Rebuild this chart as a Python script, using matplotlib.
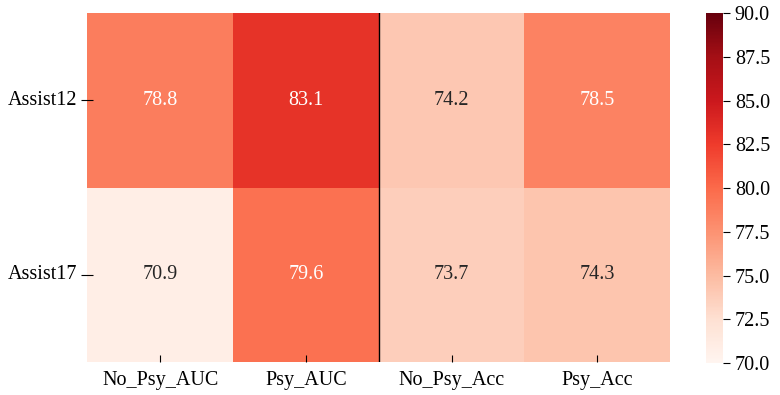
import numpy as np
import pandas as pd
import seaborn as sns
from matplotlib import pyplot as plt

# 数据
datasets = ['Assist12', 'Assist17']
metrics = ['No_Psy_AUC', 'Psy_AUC', 'No_Psy_Acc', 'Psy_Acc']
assist12 = [78.8, 83.1, 74.2, 78.5]
assist17 = [70.9, 79.6, 73.7, 74.3]

df = pd.DataFrame([assist12, assist17], index=datasets, columns=metrics)

plt.rcParams['font.family'] = ['Liberation Serif', 'DejaVu Serif']
plt.rcParams['font.size'] = 14.5

fig = plt.figure(figsize=(7.8, 3.95), dpi=100)
ax = fig.add_axes([0.112, 0.083, 0.747, 0.884])
cax = fig.add_axes([0.905, 0.081, 0.022, 0.886])

sns.heatmap(df, ax=ax, cbar_ax=cax, cmap='Reds', vmin=70, vmax=90,
            annot=True, fmt='.1f', annot_kws={'fontsize': 14.5})
ax.axvline(x=2, color='black', lw=1)

ax.tick_params(axis='x', direction='in', length=5, labelsize=14.5, pad=6)
ax.tick_params(axis='y', direction='inout', length=8, labelsize=14.5, rotation=0, pad=3)
cax.set_yticks(np.arange(70, 90.1, 2.5))
cax.set_yticklabels(['%.1f' % v for v in np.arange(70, 90.1, 2.5)])
cax.tick_params(labelsize=14.5, length=5)

plt.savefig('out.png', dpi=100)
